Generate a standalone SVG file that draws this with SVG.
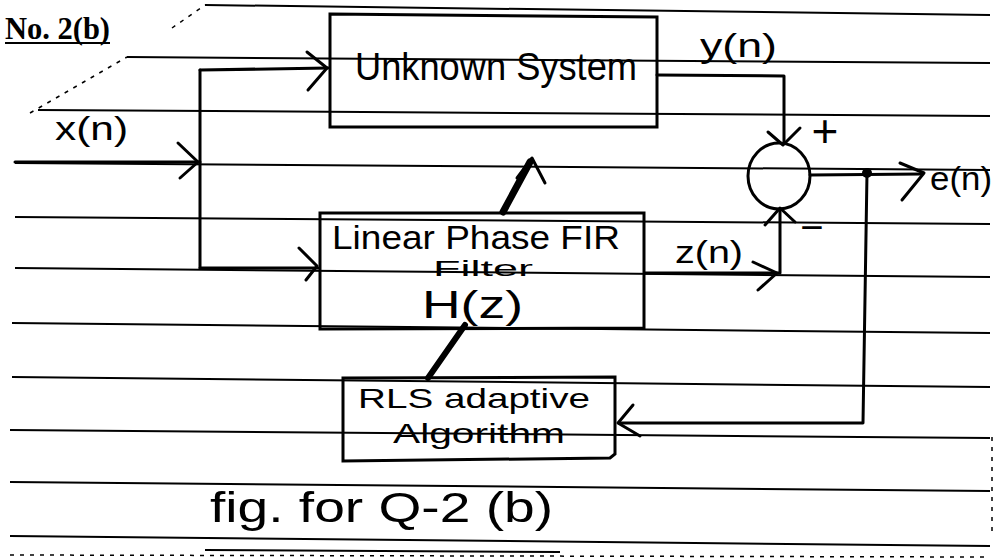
<svg xmlns="http://www.w3.org/2000/svg" width="996" height="559" viewBox="0 0 996 559">
<style>
.rule{stroke:#000;stroke-width:2;fill:none}
.dash{stroke:#000;stroke-width:1.5;fill:none;stroke-dasharray:4 6}
.box{stroke:#000;stroke-width:3;fill:none;stroke-linejoin:miter}
.flow{stroke:#000;stroke-width:3;fill:none;stroke-linecap:round;stroke-linejoin:round}
.head{stroke:#000;stroke-width:3;fill:none;stroke-linecap:round;stroke-linejoin:round}
.hand{font-family:"Liberation Sans","DejaVu Sans",sans-serif;fill:#000}
.title{font-family:"Liberation Serif","DejaVu Serif",serif;font-weight:bold;fill:#000}
</style>
<rect width="996" height="559" fill="#fff"/>
<g id="paper-lines">
<path class="rule" d="M205,5 L990,15"/>
<path class="dash" d="M172,28 L205,5"/>
<path class="rule" d="M127,57 L990,63"/>
<path class="dash" d="M30,113 L127,57"/>
<path class="rule" d="M38,110 L990,116"/>
<path class="rule" d="M15,163 L990,170"/>
<path class="rule" d="M15,217 L990,224"/>
<path class="rule" d="M15,268 L990,277"/>
<path class="rule" d="M12,323 L990,333"/>
<path class="rule" d="M12,377 L990,387"/>
<path class="rule" d="M10,430 L990,438"/>
<path class="rule" d="M10,482 L990,491"/>
<path class="rule" d="M10,536 L990,546"/>
<path class="dash" d="M10,555 L990,557"/>
<path class="dash" d="M992,437 L992,532"/>
</g>
<g id="title">
<text class="title" x="5" y="39" font-size="32" textLength="105" lengthAdjust="spacingAndGlyphs">No. 2(b)</text>
<path class="rule" d="M5,43 L110,43"/>
</g>
<g id="unknown-system">
<path class="box" d="M330,14 L657,17 L657,127 L330,127 Z"/>
<text class="hand" x="355" y="80" font-size="38" textLength="282" lengthAdjust="spacingAndGlyphs">Unknown System</text>
</g>
<g id="fir-filter">
<path class="box" d="M320,213 L644,213 L644,328 L320,329 Z"/>
<text class="hand" x="332" y="249" font-size="33" textLength="288" lengthAdjust="spacingAndGlyphs">Linear Phase FIR</text>
<text class="hand" x="433" y="276" font-size="22" textLength="100" lengthAdjust="spacingAndGlyphs">Filter</text>
<text class="hand" x="422" y="318" font-size="38" textLength="101" lengthAdjust="spacingAndGlyphs">H(z)</text>
</g>
<g id="rls-algorithm">
<path class="box" d="M343,378 L615,377 L615,454 L610,458 L343,461 Z"/>
<text class="hand" x="358" y="408" font-size="28" textLength="232" lengthAdjust="spacingAndGlyphs">RLS adaptive</text>
<text class="hand" x="393" y="443" font-size="28" textLength="172" lengthAdjust="spacingAndGlyphs">Algorithm</text>
</g>
<g id="summer">
<ellipse class="box" cx="779" cy="176" rx="31" ry="33"/>
<text class="hand" x="825" y="147" font-size="46" text-anchor="middle">+</text>
<text class="hand" x="812" y="241" font-size="40" text-anchor="middle">−</text>
</g>
<g id="signal-labels">
<text class="hand" x="55" y="140" font-size="34" textLength="73" lengthAdjust="spacingAndGlyphs">x(n)</text>
<text class="hand" x="700" y="57" font-size="34" textLength="77" lengthAdjust="spacingAndGlyphs">y(n)</text>
<text class="hand" x="675" y="263" font-size="32" textLength="68" lengthAdjust="spacingAndGlyphs">z(n)</text>
<text class="hand" x="930" y="190" font-size="34" textLength="62" lengthAdjust="spacingAndGlyphs">e(n)</text>
</g>
<g id="connectors">
<path class="flow" d="M15,162 L200,162"/>
<path class="head" d="M178,143 L198,162 L180,178"/>
<path class="flow" d="M200,70 L200,268"/>
<path class="flow" d="M200,70 L328,68"/>
<path class="head" d="M307,52 L327,68 L308,90"/>
<path class="flow" d="M200,268 L318,268"/>
<path class="head" d="M299,248 L317,266 L306,280"/>
<path class="flow" d="M657,75 L784,76 L784,143"/>
<path class="head" d="M768,132 L783,145 L800,128"/>
<path class="flow" d="M645,273 L780,273 L780,209"/>
<path class="head" d="M753,262 L777,273 L758,290"/>
<path class="head" d="M765,225 L780,208 L795,222"/>
<path class="flow" d="M810,175 L922,174"/>
<path class="head" d="M900,163 L924,173 L902,200"/>
<circle cx="867" cy="173" r="5" fill="#000"/>
<path class="flow" d="M867,173 L863,423 L619,423"/>
<path class="head" d="M633,405 L618,423 L640,436"/>
<path d="M503,212 L530,162" stroke="#000" stroke-width="7" stroke-linecap="round" fill="none"/>
<path class="head" d="M517,178 L532,158 L545,183"/>
<path d="M428,378 L465,325" stroke="#000" stroke-width="6" stroke-linecap="round" fill="none"/>
</g>
<g id="caption">
<text class="hand" x="210" y="522" font-size="42" textLength="343" lengthAdjust="spacingAndGlyphs">fig. for Q-2 (b)</text>
<path class="rule" d="M205,550 L560,552"/>
</g>
</svg>
